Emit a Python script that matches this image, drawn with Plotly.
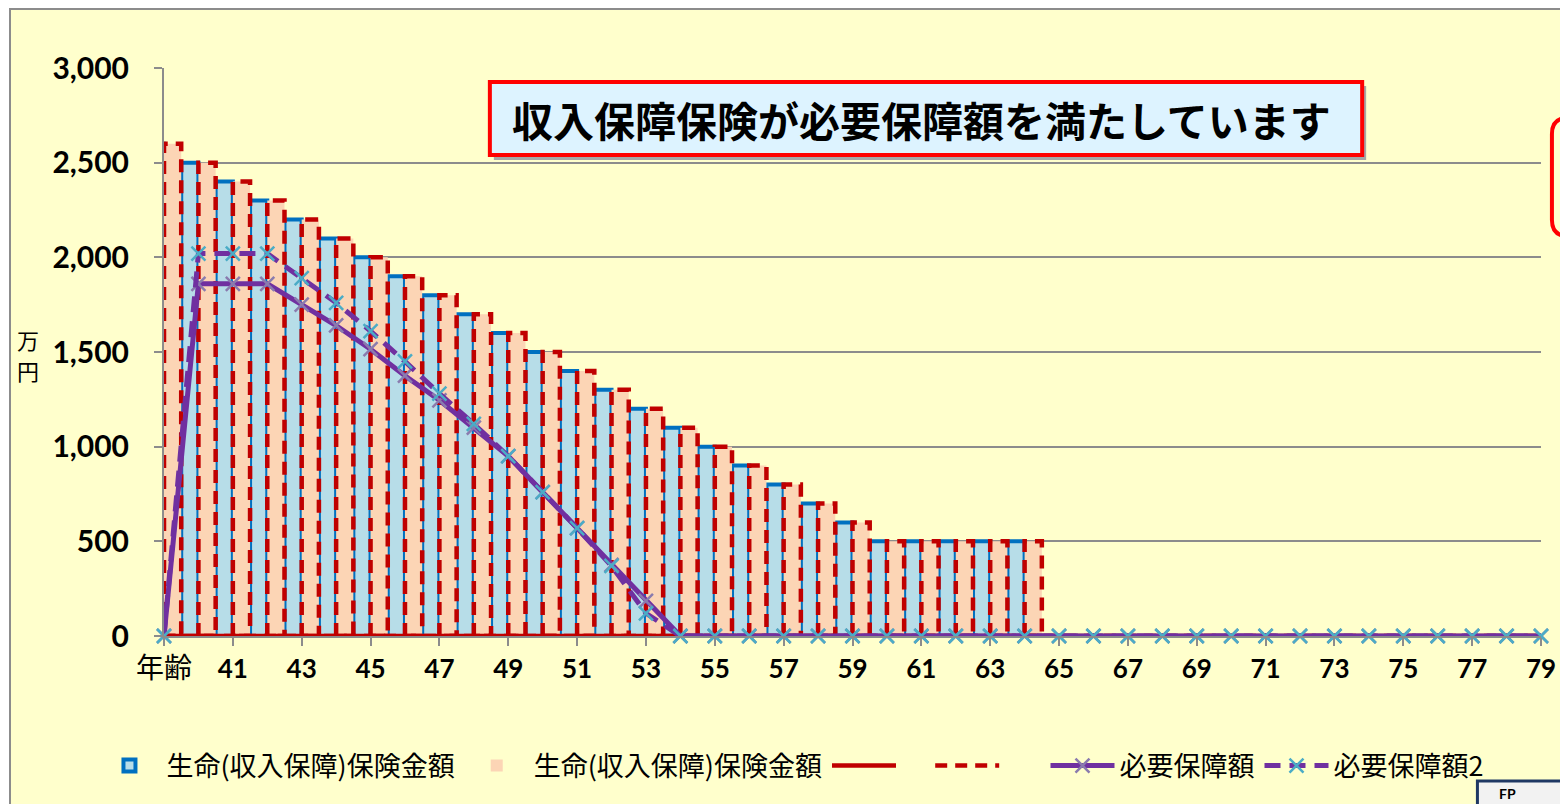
import plotly.graph_objects as go

# ---------------- data ----------------
categories = ["年齢", "40", "41", "42", "43", "44", "45", "46", "47", "48", "49",
              "50", "51", "52", "53", "54", "55", "56", "57", "58", "59",
              "60", "61", "62", "63", "64", "65", "66", "67", "68", "69",
              "70", "71", "72", "73", "74", "75", "76", "77", "78", "79"]

insurance_blue = [2600, 2500, 2400, 2300, 2200, 2100, 2000, 1900, 1800, 1700, 1600,
                  1500, 1400, 1300, 1200, 1100, 1000, 900, 800, 700, 600,
                  500, 500, 500, 500, 500, 0, 0, 0, 0, 0,
                  0, 0, 0, 0, 0, 0, 0, 0, 0, 0]

insurance_pink = [2600, 2500, 2400, 2300, 2200, 2100, 2000, 1900, 1800, 1700, 1600,
                  1500, 1400, 1300, 1200, 1100, 1000, 900, 800, 700, 600,
                  500, 500, 500, 500, 500, 0, 0, 0, 0, 0,
                  0, 0, 0, 0, 0, 0, 0, 0, 0, 0]

red_line_solid = [0, 0, 0, 0, 0, 0, 0, 0, 0, 0, 0,
                  0, 0, 0, 0, 0, 0, 0, 0, 0, 0,
                  0, 0, 0, 0, 0, 0, 0, 0, 0, 0,
                  0, 0, 0, 0, 0, 0, 0, 0, 0, 0]

red_line_dash = [0, 0, 0, 0, 0, 0, 0, 0, 0, 0, 0,
                 0, 0, 0, 0, 0, 0, 0, 0, 0, 0,
                 0, 0, 0, 0, 0, 0, 0, 0, 0, 0,
                 0, 0, 0, 0, 0, 0, 0, 0, 0, 0]

required = [0, 1860, 1860, 1860, 1750, 1640, 1515, 1375, 1245, 1100, 950,
            760, 570, 375, 185, 0, 0, 0, 0, 0, 0,
            0, 0, 0, 0, 0, 0, 0, 0, 0, 0,
            0, 0, 0, 0, 0, 0, 0, 0, 0, 0]

required2 = [0, 2020, 2020, 2020, 1890, 1760, 1610, 1450, 1280, 1120, 950,
             760, 570, 370, 120, 0, 0, 0, 0, 0, 0,
             0, 0, 0, 0, 0, 0, 0, 0, 0, 0,
             0, 0, 0, 0, 0, 0, 0, 0, 0, 0]

bar_name = "生命(収入保障)保険金額"
title_text = "収入保障保険が必要保障額を満たしています"
y_unit_chars = ["万", "円"]

# ---------------- layout geometry (page pixels, body margin 8px) ----------------
OFF = 8
W, H = 1560, 796
ML, MT = 156, 60
PW, PH = 1386, 568
MR = W - ML - PW
MB = H - MT - PH


def px(x):
    return (x - OFF - ML) / PW


def py(y):
    return 1 - (y - OFF - MT) / PH


xi = list(range(len(categories)))
BW = 0.5

CJK = "Noto Sans CJK JP"
NUM = "Lato, Noto Sans CJK JP"
NB = "\u00a0"

fig = go.Figure()

fig.add_trace(go.Bar(
    x=xi, y=insurance_blue, name=bar_name, offset=-BW, width=BW,
    marker=dict(color="#B7DDE8", line=dict(color="#0070C0", width=4)),
))
fig.add_trace(go.Bar(
    x=xi, y=insurance_pink, name=bar_name, offset=0, width=BW,
    marker=dict(color="#FCD5B5", line=dict(width=0)),
    legendgroup="pink",
))

# dashed red outline of the pink bars (built from the data)
ox, oy = [], []
for i, v in enumerate(insurance_pink):
    if v > 0:
        ox += [i, i, i + BW, i + BW, i, None]
        oy += [0, v, v, 0, 0, None]
fig.add_trace(go.Scatter(
    x=ox, y=oy, mode="lines", showlegend=False, legendgroup="pink",
    line=dict(color="#C00000", width=4.5, dash="13px,8px"), hoverinfo="skip",
))

fig.add_trace(go.Scatter(
    x=xi, y=red_line_solid, name=NB * 4, mode="lines",
    line=dict(color="#C00000", width=4.5), cliponaxis=False,
))
fig.add_trace(go.Scatter(
    x=xi, y=red_line_dash, name=NB * 6, mode="lines",
    line=dict(color="#C00000", width=4.5, dash="12px,8px"), cliponaxis=False,
))
fig.add_trace(go.Scatter(
    x=xi, y=required, name="必要保障額", mode="lines+markers",
    line=dict(color="#7030A0", width=5),
    marker=dict(symbol="x-thin", size=14, line=dict(color="#8A7BAE", width=2.5)),
    cliponaxis=False,
))
fig.add_trace(go.Scatter(
    x=xi, y=required2, name="必要保障額2", mode="lines+markers",
    line=dict(color="#7030A0", width=5, dash="16px,9px"),
    marker=dict(symbol="x-thin", size=14, line=dict(color="#4BACC6", width=2.5)),
    cliponaxis=False,
))

tick_idx = xi[::2]
tick_txt = ["<span style='font-size:28px'>" + categories[i] + "</span>" if i == 0
            else "<b>" + categories[i] + "</b>" for i in tick_idx]

shapes = [
    # chart background + outer border
    dict(type="rect", xref="paper", yref="paper", x0=px(9), y0=py(900), x1=px(1700), y1=py(9),
         fillcolor="#FFFFCC", line=dict(color="#8C8C8C", width=2), layer="below"),
    # title box shadow
    dict(type="rect", xref="paper", yref="paper", x0=px(496), y0=py(160), x1=px(1374), y1=py(86),
         fillcolor="#A6A6A6", line=dict(width=0), layer="above"),
    # title box
    dict(type="rect", xref="paper", yref="paper", x0=px(492), y0=py(155), x1=px(1370), y1=py(82),
         fillcolor="#DDF3FF", line=dict(color="#FF0000", width=4), layer="above"),
    # bottom-right box
    dict(type="rect", xref="paper", yref="paper", x0=px(1486), y0=py(900), x1=px(1700), y1=py(781),
         fillcolor="#F2F2F2", line=dict(color="#1F3864", width=3), layer="above"),
]

# rounded red box at right edge (partly visible)
rx0, ry0, rx1, ry1, r = 1561, 118, 1800, 236, 16
path = (f"M {px(rx0 + r)},{py(ry0)} L {px(rx1)},{py(ry0)} L {px(rx1)},{py(ry1)} "
        f"L {px(rx0 + r)},{py(ry1)} Q {px(rx0)},{py(ry1)} {px(rx0)},{py(ry1 - r)} "
        f"L {px(rx0)},{py(ry0 + r)} Q {px(rx0)},{py(ry0)} {px(rx0 + r)},{py(ry0)} Z")
shapes.append(dict(type="path", xref="paper", yref="paper", path=path,
                   line=dict(color="#FF0000", width=4), fillcolor="rgba(0,0,0,0)"))

annotations = [
    dict(xref="paper", yref="paper", x=px(926), y=py(119), text="<b>" + title_text + "</b>",
         showarrow=False, font=dict(family=CJK, size=41, color="#000000"),
         xanchor="center", yanchor="middle"),
    dict(xref="paper", yref="paper", x=px(27), y=py(339), text=y_unit_chars[0],
         showarrow=False, font=dict(family=CJK, size=22, color="#000000"),
         xanchor="center", yanchor="middle"),
    dict(xref="paper", yref="paper", x=px(27), y=py(370), text=y_unit_chars[1],
         showarrow=False, font=dict(family=CJK, size=22, color="#000000"),
         xanchor="center", yanchor="middle"),
    dict(xref="paper", yref="paper", x=px(1506), y=py(783), text="<b>FP</b>",
         showarrow=False, font=dict(family=NUM, size=14, color="#000000"),
         xanchor="left", yanchor="top"),
]

fig.update_layout(
    width=W, height=H,
    margin=dict(l=ML, r=MR, t=MT, b=MB),
    paper_bgcolor="#FFFFFF",
    plot_bgcolor="rgba(0,0,0,0)",
    barmode="overlay",
    showlegend=True,
    legend=dict(orientation="h", x=px(92), y=py(766), xanchor="left", yanchor="middle",
                font=dict(family=CJK, size=27, color="#000000"), itemwidth=64,
                bgcolor="rgba(0,0,0,0)", traceorder="normal"),
    xaxis=dict(range=[0, 40], tickmode="array", tickvals=tick_idx, ticktext=tick_txt,
               showgrid=False, zeroline=False, showline=True, linecolor="#8C8C8C", linewidth=2,
               ticks="outside", ticklen=8, tickwidth=2, tickcolor="#8C8C8C",
               tickfont=dict(family=NUM, size=26, color="#000000"),
               ticklabelstandoff=1),
    yaxis=dict(range=[0, 3000], dtick=500, tickformat=",",
               showgrid=True, gridcolor="#8C8C8C", gridwidth=2,
               zeroline=False, showline=True, linecolor="#8C8C8C", linewidth=2,
               ticks="outside", ticklen=8, tickwidth=2, tickcolor="#8C8C8C",
               tickfont=dict(family=NUM, size=30, color="#000000", weight="bold"),
               ticklabelstandoff=19),
    shapes=shapes,
    annotations=annotations,
)

fig.write_html("out.html")
